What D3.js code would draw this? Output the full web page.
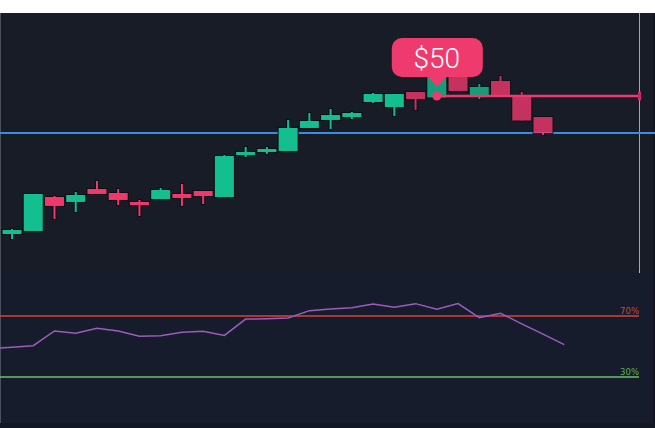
<!DOCTYPE html>
<html>
<head>
<meta charset="utf-8">
<script src="https://cdn.jsdelivr.net/npm/d3@7/dist/d3.min.js"></script>
<style>
  html, body { margin: 0; padding: 0; background: #ffffff; }
  svg { display: block; }
</style>
</head>
<body>
<svg id="chart" width="655" height="428"></svg>
<script>
// ---- data ----
const candleOpen  = [31.35, 31.76, 36.35, 35.68, 37.43, 36.89, 35.68, 36.08, 36.76, 37.16, 36.35, 42.03, 42.43, 42.57, 45.68, 46.76, 47.16, 49.19, 48.51, 50.54, 49.80, 53.40, 50.00, 52.03, 49.86, 47.16];
const candleClose = [31.89, 36.76, 35.14, 36.62, 36.76, 35.95, 35.27, 37.30, 36.22, 36.49, 41.89, 42.43, 42.84, 45.68, 46.62, 47.43, 47.70, 50.27, 50.27, 49.59, 52.70, 50.68, 51.22, 49.86, 46.69, 45.00];
const candleHigh  = [32.03, 36.76, 36.49, 37.03, 38.51, 37.43, 35.95, 37.57, 38.11, 37.16, 42.03, 43.11, 43.11, 46.76, 47.70, 48.24, 47.84, 50.41, 50.27, 50.54, 52.70, 53.40, 51.62, 52.70, 50.54, 47.16];
const candleLow   = [30.68, 31.76, 33.38, 34.32, 36.76, 35.27, 33.78, 36.08, 35.14, 35.41, 36.35, 41.76, 42.16, 42.57, 45.68, 45.54, 46.89, 49.05, 47.30, 48.11, 49.80, 50.68, 49.59, 49.86, 46.69, 44.73];

const rsiStartIndex = -1;
const rsiValues = [48.6, 49.5, 50.5, 60.2, 58.7, 61.9, 60.2, 56.7, 57.1, 59.3, 60.0, 57.3, 68.0, 68.2, 68.7, 73.5, 74.6, 75.4, 77.9, 75.7, 78.1, 74.4, 78.1, 68.9, 71.8, 64.8, 58.1, 51.2];

const hoverIndex = 20;
const hoverPrice = 50;
const hoverLabel = "$50";
const referencePrice = 45;
const rsiLevels = [70, 30];
const rsiLabels = ["70%", "30%"];

// ---- layout ----
const W = 655, H = 428;
const mainTop = 13, mainBottom = 272;
const rsiTop = 272, rsiBottom = 423;
const plotRight = 639;

const svg = d3.select("#chart");

// backgrounds
svg.append("rect").attr("x", 0).attr("y", 0).attr("width", W).attr("height", mainTop).attr("fill", "#ffffff");
svg.append("rect").attr("x", 0).attr("y", mainTop).attr("width", W).attr("height", mainBottom - mainTop).attr("fill", "#181c27");
svg.append("rect").attr("x", 0).attr("y", rsiTop).attr("width", W).attr("height", rsiBottom - rsiTop).attr("fill", "#161c2b");
svg.append("rect").attr("x", 0).attr("y", rsiBottom).attr("width", W).attr("height", H - rsiBottom).attr("fill", "#131722");
svg.append("rect").attr("x", 0).attr("y", mainTop).attr("width", 1).attr("height", rsiBottom - mainTop).attr("fill", "#4b505b");
svg.append("rect").attr("x", W - 2).attr("y", mainTop).attr("width", 2).attr("height", rsiBottom - mainTop).attr("fill", "#12151d");

// scales
const x = d3.scaleLinear().domain([0, candleOpen.length - 1]).range([12, 543]);
const y = d3.scaleLinear().domain([45, 50]).range([133, 96]);
const yr = d3.scaleLinear().domain([30, 70]).range([377, 316]);

const bodyW = 19;
const green = "#14bf8f", red = "#f1386d";

// vertical right line
svg.append("line")
  .attr("x1", plotRight + 0.5).attr("x2", plotRight + 0.5)
  .attr("y1", mainTop).attr("y2", mainBottom + 1)
  .attr("stroke", "#d6c07c").attr("stroke-width", 1).attr("opacity", 0.85);

// reference (blue) line
svg.append("line")
  .attr("x1", 0).attr("x2", W)
  .attr("y1", y(referencePrice)).attr("y2", y(referencePrice))
  .attr("stroke", "#3a8de2").attr("stroke-width", 2);

// candles
const candles = candleOpen.map((o, i) => ({
  i, o, c: candleClose[i], h: candleHigh[i], l: candleLow[i]
}));

const cg = svg.append("g");
const g = cg.selectAll("g.c").data(candles).join("g")
  .attr("class", "c")
  .attr("opacity", d => d.i >= 19 ? 0.8 : 1);

// dark outlines
g.append("rect")
  .attr("x", d => x(d.i) - 2)
  .attr("width", 4)
  .attr("y", d => y(d.h) - 1)
  .attr("height", d => Math.max(1, y(d.l) - y(d.h)) + 2)
  .attr("fill", "#0c0f15");
g.append("rect")
  .attr("x", d => x(d.i) - bodyW / 2 - 1)
  .attr("width", bodyW + 2)
  .attr("y", d => y(Math.max(d.o, d.c)) - 1)
  .attr("height", d => Math.max(1.5, Math.abs(y(d.o) - y(d.c))) + 2)
  .attr("fill", "#0c0f15");
// wicks
g.append("rect")
  .attr("x", d => x(d.i) - 1)
  .attr("width", 2)
  .attr("y", d => y(d.h))
  .attr("height", d => Math.max(1, y(d.l) - y(d.h)))
  .attr("fill", d => d.c >= d.o ? green : red);
// bodies
g.append("rect")
  .attr("x", d => x(d.i) - bodyW / 2)
  .attr("width", bodyW)
  .attr("y", d => y(Math.max(d.o, d.c)))
  .attr("height", d => Math.max(1.5, Math.abs(y(d.o) - y(d.c))))
  .attr("fill", d => d.c >= d.o ? green : red);

// hover line + dot
const pink = "#ee3a6d";
const hx = x(hoverIndex), hy = y(hoverPrice);
svg.append("line")
  .attr("x1", hx).attr("x2", plotRight + 1)
  .attr("y1", hy).attr("y2", hy)
  .attr("stroke", "#ef386c").attr("stroke-width", 2.5);
svg.append("rect")
  .attr("x", plotRight - 1).attr("y", hy - 4.5).attr("width", 3).attr("height", 9)
  .attr("fill", "#c8305f");
svg.append("circle").attr("cx", hx).attr("cy", hy).attr("r", 4.5).attr("fill", pink);

// tooltip
const tipW = 91, tipH = 39, tipGap = 19;
const tipX = hx - tipW / 2 + 0.5, tipY = hy - tipGap - tipH;
const tip = svg.append("g");
tip.append("rect")
  .attr("x", tipX).attr("y", tipY).attr("width", tipW).attr("height", tipH)
  .attr("rx", 10).attr("fill", pink);
tip.append("path")
  .attr("d", `M${hx - 10},${tipY + tipH - 1} L${hx + 10},${tipY + tipH - 1} L${hx + 0.5},${tipY + tipH + 10} Z`)
  .attr("fill", pink);
tip.append("text")
  .attr("x", hx).attr("y", tipY + 30)
  .attr("text-anchor", "middle")
  .attr("font-family", "Roboto, 'Open Sans', sans-serif")
  .attr("font-weight", 300)
  .attr("font-size", 28)
  .attr("fill", "#ffffff")
  .text(hoverLabel);

// RSI panel
const levelColors = ["#d9433a", "#66c266"];
const labelColors = ["#c8483d", "#5fb052"];
rsiLevels.forEach((lv, k) => {
  svg.append("line")
    .attr("x1", 0).attr("x2", plotRight)
    .attr("y1", yr(lv)).attr("y2", yr(lv))
    .attr("stroke", levelColors[k]).attr("stroke-width", 1.5);
  svg.append("text")
    .attr("x", plotRight).attr("y", yr(lv) - 2.5)
    .attr("text-anchor", "end")
    .attr("font-family", "'DejaVu Sans', sans-serif")
    .attr("font-size", 8.5)
    .attr("fill", labelColors[k])
    .text(rsiLabels[k]);
});

svg.append("clipPath").attr("id", "rsiClip")
  .append("rect").attr("x", 0).attr("y", rsiTop).attr("width", plotRight).attr("height", rsiBottom - rsiTop);

const rsiLine = d3.line()
  .x((d, i) => x(rsiStartIndex + i))
  .y(d => yr(d));
svg.append("path")
  .attr("clip-path", "url(#rsiClip)")
  .attr("d", rsiLine(rsiValues))
  .attr("fill", "none")
  .attr("stroke", "#9b5cbd")
  .attr("stroke-width", 1.5);

// small tick at top of RSI panel under right line
svg.append("rect").attr("x", plotRight).attr("y", rsiTop - 1).attr("width", 1).attr("height", 2).attr("fill", "#d6c07c");
</script>
</body>
</html>
